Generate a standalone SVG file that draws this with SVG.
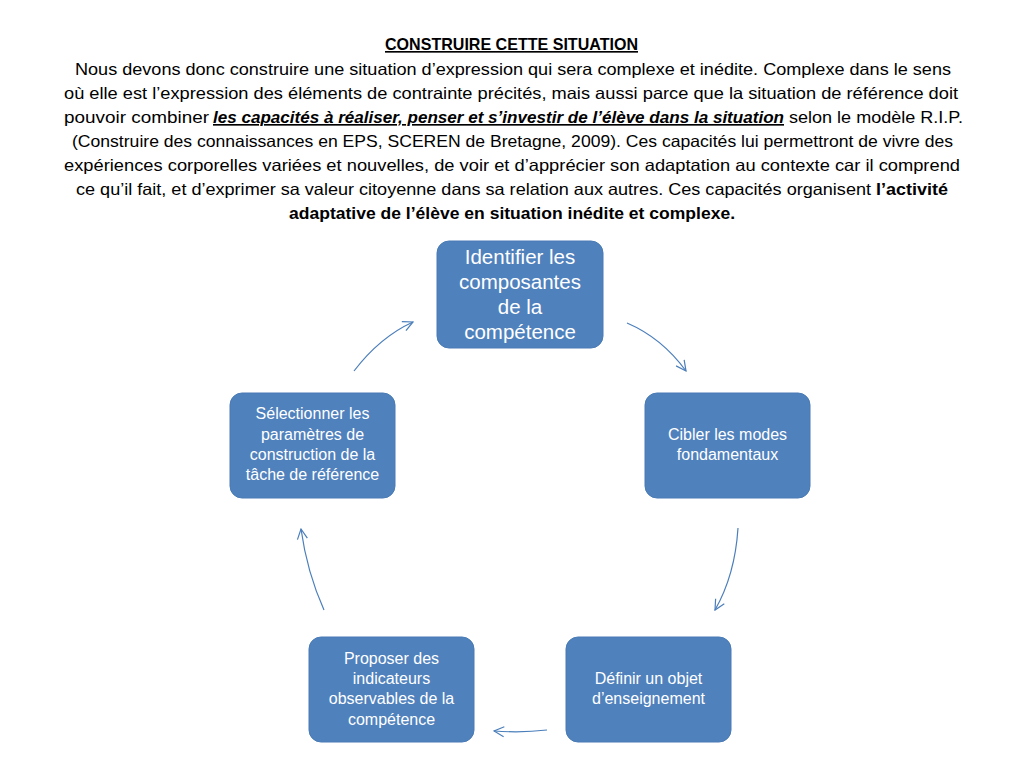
<svg xmlns="http://www.w3.org/2000/svg" width="1024" height="768" viewBox="0 0 1024 768">
<defs>
<style>
.t{font-family:"Liberation Sans",Arial,sans-serif;font-size:16.5px;fill:#000}
.b{font-weight:bold}
.bi{font-weight:bold;font-style:italic;text-decoration:underline}
.n{fill:#4F81BD;stroke:#4A7BB5;stroke-width:1}
.nt{font-family:"Liberation Sans",Arial,sans-serif;font-size:16px;fill:#fff;text-anchor:middle}
.big{font-size:20.5px}
.c{fill:none;stroke:#4A7EBB;stroke-width:1.2;marker-end:url(#ah)}
</style>
<marker id="ah" viewBox="0 0 12 12" refX="11" refY="6" markerWidth="12" markerHeight="12" markerUnits="userSpaceOnUse" orient="auto">
<path d="M1,1 L11,6 L1,11" fill="none" stroke="#4A7EBB" stroke-width="1.2"/>
</marker>
</defs>
<rect width="1024" height="768" fill="#fff"/>
<g id="header">
<text class="t b" x="385" y="50" textLength="253" lengthAdjust="spacingAndGlyphs" text-decoration="underline">CONSTRUIRE CETTE SITUATION</text>
<text class="t" x="75" y="75" textLength="876" lengthAdjust="spacingAndGlyphs">Nous devons donc construire une situation d’expression qui sera complexe et inédite. Complexe dans le sens</text>
<text class="t" x="64" y="99" textLength="894" lengthAdjust="spacingAndGlyphs">où elle est l’expression des éléments de contrainte précités, mais aussi parce que la situation de référence doit</text>
<text class="t" y="123"><tspan x="64" textLength="145" lengthAdjust="spacingAndGlyphs">pouvoir combiner</tspan><tspan class="bi" x="213" textLength="571" lengthAdjust="spacingAndGlyphs">les capacités à réaliser, penser et s’investir de l’élève dans la situation</tspan><tspan x="789" textLength="174" lengthAdjust="spacingAndGlyphs">selon le modèle R.I.P.</tspan></text>
<text class="t" x="72" y="147" textLength="881" lengthAdjust="spacingAndGlyphs">(Construire des connaissances en EPS, SCEREN de Bretagne, 2009). Ces capacités lui permettront de vivre des</text>
<text class="t" x="64" y="171" textLength="896" lengthAdjust="spacingAndGlyphs">expériences corporelles variées et nouvelles, de voir et d’apprécier son adaptation au contexte car il comprend</text>
<text class="t" y="195"><tspan x="76" textLength="795" lengthAdjust="spacingAndGlyphs">ce qu’il fait, et d’exprimer sa valeur citoyenne dans sa relation aux autres. Ces capacités organisent</tspan><tspan class="b" x="876" textLength="72" lengthAdjust="spacingAndGlyphs">l’activité</tspan></text>
<text class="t b" x="289" y="219" textLength="446" lengthAdjust="spacingAndGlyphs">adaptative de l’élève en situation inédite et complexe.</text>
</g>
<g id="connectors">
<path class="c" d="M627,323 Q662,338 686,371"/>
<path class="c" d="M738,528 Q735,575 715,610"/>
<path class="c" d="M547,730 Q522,733 494,731"/>
<path class="c" d="M324,610 Q307,572 301,529"/>
<path class="c" d="M354,371 Q380,337 413,322"/>
</g>
<g id="node1">
<rect class="n" x="437" y="241" width="166" height="107" rx="12"/>
<text class="nt big"><tspan x="520" y="264">Identifier les</tspan><tspan x="520" y="289">composantes</tspan><tspan x="520" y="314">de la</tspan><tspan x="520" y="339">compétence</tspan></text>
</g>
<g id="node2">
<rect class="n" x="645" y="393" width="165" height="105" rx="12"/>
<text class="nt"><tspan x="727.5" y="440">Cibler les modes</tspan><tspan x="727.5" y="460">fondamentaux</tspan></text>
</g>
<g id="node3">
<rect class="n" x="566" y="637" width="165" height="105" rx="12"/>
<text class="nt"><tspan x="648.5" y="684">Définir un objet</tspan><tspan x="648.5" y="704">d’enseignement</tspan></text>
</g>
<g id="node4">
<rect class="n" x="309" y="637" width="165" height="105" rx="12"/>
<text class="nt"><tspan x="391.5" y="664">Proposer des</tspan><tspan x="391.5" y="684">indicateurs</tspan><tspan x="391.5" y="704">observables de la</tspan><tspan x="391.5" y="725">compétence</tspan></text>
</g>
<g id="node5">
<rect class="n" x="230" y="393" width="165" height="105" rx="12"/>
<text class="nt"><tspan x="312.5" y="419">Sélectionner les</tspan><tspan x="312.5" y="440">paramètres de</tspan><tspan x="312.5" y="460">construction de la</tspan><tspan x="312.5" y="480">tâche de référence</tspan></text>
</g>
</svg>
